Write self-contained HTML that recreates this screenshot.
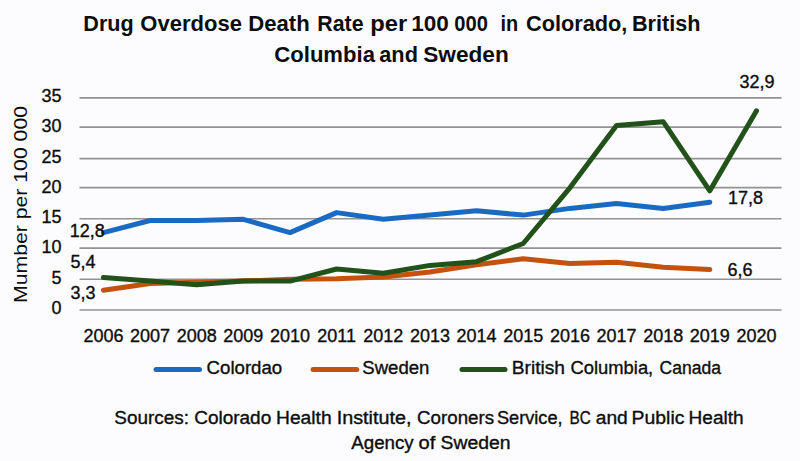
<!DOCTYPE html>
<html><head><meta charset="utf-8"><style>
html,body{margin:0;padding:0;background:#FCFCFE;}
svg{display:block;}
.t{font-family:"Liberation Sans",sans-serif;font-size:18px;fill:#0d0d0d;stroke:#0d0d0d;stroke-width:0.35px;white-space:pre;}
.b{font-family:"Liberation Sans",sans-serif;font-size:22px;font-weight:bold;fill:#0d0d0d;white-space:pre;}
</style></head><body>
<svg width="800" height="461" viewBox="0 0 800 461">
<rect width="800" height="461" fill="#FCFCFE"/>
<line x1="79.5" x2="781.5" y1="310.00" y2="310.00" stroke="#939393" stroke-width="1.6"/>
<line x1="79.5" x2="781.5" y1="279.30" y2="279.30" stroke="#939393" stroke-width="1.6"/>
<line x1="79.5" x2="781.5" y1="248.10" y2="248.10" stroke="#939393" stroke-width="1.6"/>
<line x1="79.5" x2="781.5" y1="218.80" y2="218.80" stroke="#939393" stroke-width="1.6"/>
<line x1="79.5" x2="781.5" y1="187.60" y2="187.60" stroke="#939393" stroke-width="1.6"/>
<line x1="79.5" x2="781.5" y1="158.60" y2="158.60" stroke="#939393" stroke-width="1.6"/>
<line x1="79.5" x2="781.5" y1="127.10" y2="127.10" stroke="#939393" stroke-width="1.6"/>
<line x1="79.5" x2="781.5" y1="97.90" y2="97.90" stroke="#939393" stroke-width="1.6"/>
<text x="61.5" y="314.0" text-anchor="end" class="t">0</text>
<text x="61.5" y="283.7" text-anchor="end" class="t">5</text>
<text x="61.5" y="253.4" text-anchor="end" class="t">10</text>
<text x="61.5" y="223.1" text-anchor="end" class="t">15</text>
<text x="61.5" y="192.8" text-anchor="end" class="t">20</text>
<text x="61.5" y="162.5" text-anchor="end" class="t">25</text>
<text x="61.5" y="132.2" text-anchor="end" class="t">30</text>
<text x="61.5" y="101.9" text-anchor="end" class="t">35</text>
<text x="103.4" y="342" text-anchor="middle" class="t">2006</text>
<text x="150.1" y="342" text-anchor="middle" class="t">2007</text>
<text x="196.7" y="342" text-anchor="middle" class="t">2008</text>
<text x="243.3" y="342" text-anchor="middle" class="t">2009</text>
<text x="290.0" y="342" text-anchor="middle" class="t">2010</text>
<text x="336.6" y="342" text-anchor="middle" class="t">2011</text>
<text x="383.3" y="342" text-anchor="middle" class="t">2012</text>
<text x="430.0" y="342" text-anchor="middle" class="t">2013</text>
<text x="476.6" y="342" text-anchor="middle" class="t">2014</text>
<text x="523.2" y="342" text-anchor="middle" class="t">2015</text>
<text x="569.9" y="342" text-anchor="middle" class="t">2016</text>
<text x="616.5" y="342" text-anchor="middle" class="t">2017</text>
<text x="663.2" y="342" text-anchor="middle" class="t">2018</text>
<text x="709.8" y="342" text-anchor="middle" class="t">2019</text>
<text x="756.5" y="342" text-anchor="middle" class="t">2020</text>
<polyline points="103.4,232.6 150.1,220.5 196.7,220.5 243.3,219.3 290.0,232.6 336.6,212.6 383.3,219.3 430.0,215.1 476.6,210.8 523.2,215.1 569.9,208.4 616.5,203.5 663.2,208.4 709.8,202.3" fill="none" stroke="#1A6AC4" stroke-width="5" stroke-linejoin="round" stroke-linecap="round"/>
<polyline points="103.4,290.2 150.1,283.5 196.7,282.3 243.3,281.1 290.0,279.3 336.6,278.7 383.3,276.9 430.0,272.0 476.6,264.8 523.2,258.7 569.9,263.5 616.5,262.3 663.2,267.2 709.8,269.6" fill="none" stroke="#C4520E" stroke-width="5" stroke-linejoin="round" stroke-linecap="round"/>
<polyline points="103.4,277.5 150.1,281.1 196.7,284.7 243.3,281.1 290.0,281.1 336.6,269.0 383.3,273.2 430.0,265.4 476.6,261.7 523.2,243.5 569.9,187.8 616.5,125.4 663.2,121.7 709.8,190.8 756.5,110.8" fill="none" stroke="#22511A" stroke-width="5" stroke-linejoin="round" stroke-linecap="round"/>
<text x="69.8" y="236.8" class="t">12,8</text>
<text x="70.5" y="267.6" class="t">5,4</text>
<text x="70.5" y="299.3" class="t">3,3</text>
<text x="728" y="204" class="t">17,8</text>
<text x="727.5" y="276" class="t">6,6</text>
<text x="739.5" y="88.3" class="t">32,9</text>
<text transform="translate(27.3,303) rotate(-90)" x="0" y="0" class="t" style="stroke-width:0" textLength="197" lengthAdjust="spacingAndGlyphs">Mumber per 100 000</text>
<line x1="156.0" x2="199.5" y1="369.4" y2="369.4" stroke="#1A6AC4" stroke-width="5" stroke-linecap="round"/>
<line x1="313.1" x2="356.8" y1="369.4" y2="369.4" stroke="#C4520E" stroke-width="5" stroke-linecap="round"/>
<line x1="462.0" x2="505.0" y1="369.4" y2="369.4" stroke="#22511A" stroke-width="5" stroke-linecap="round"/>
<text x="83.32" y="31.2" class="b" textLength="50.29" lengthAdjust="spacingAndGlyphs">Drug</text>
<text x="140.30" y="31.2" class="b" textLength="101.64" lengthAdjust="spacingAndGlyphs">Overdose</text>
<text x="248.29" y="31.2" class="b" textLength="61.45" lengthAdjust="spacingAndGlyphs">Death</text>
<text x="317.33" y="31.2" class="b" textLength="46.20" lengthAdjust="spacingAndGlyphs">Rate</text>
<text x="370.22" y="31.2" class="b" textLength="37.01" lengthAdjust="spacingAndGlyphs">per</text>
<text x="411.27" y="31.2" class="b" textLength="37.67" lengthAdjust="spacingAndGlyphs">100</text>
<text x="454.30" y="31.2" class="b" textLength="33.62" lengthAdjust="spacingAndGlyphs">000</text>
<text x="500.39" y="31.2" class="b" textLength="17.70" lengthAdjust="spacingAndGlyphs">in</text>
<text x="526.00" y="31.2" class="b" textLength="101.40" lengthAdjust="spacingAndGlyphs">Colorado,</text>
<text x="631.92" y="31.2" class="b" textLength="68.51" lengthAdjust="spacingAndGlyphs">British</text>
<text x="274.30" y="62.4" class="b" textLength="100.63" lengthAdjust="spacingAndGlyphs">Columbia</text>
<text x="379.30" y="62.4" class="b" textLength="38.62" lengthAdjust="spacingAndGlyphs">and</text>
<text x="423.20" y="62.4" class="b" textLength="85.55" lengthAdjust="spacingAndGlyphs">Sweden</text>
<text x="114.30" y="424" class="t" textLength="74.75" lengthAdjust="spacingAndGlyphs">Sources:</text>
<text x="194.20" y="424" class="t" textLength="77.01" lengthAdjust="spacingAndGlyphs">Colorado</text>
<text x="276.03" y="424" class="t" textLength="55.55" lengthAdjust="spacingAndGlyphs">Health</text>
<text x="336.70" y="424" class="t" textLength="74.70" lengthAdjust="spacingAndGlyphs">Institute,</text>
<text x="417.10" y="424" class="t" textLength="77.00" lengthAdjust="spacingAndGlyphs">Coroners</text>
<text x="496.90" y="424" class="t" textLength="65.71" lengthAdjust="spacingAndGlyphs">Service,</text>
<text x="569.45" y="424" class="t" textLength="21.25" lengthAdjust="spacingAndGlyphs">BC</text>
<text x="595.80" y="424" class="t" textLength="31.98" lengthAdjust="spacingAndGlyphs">and</text>
<text x="631.62" y="424" class="t" textLength="52.78" lengthAdjust="spacingAndGlyphs">Public</text>
<text x="688.64" y="424" class="t" textLength="55.03" lengthAdjust="spacingAndGlyphs">Health</text>
<text x="351.30" y="449.3" class="t" textLength="62.40" lengthAdjust="spacingAndGlyphs">Agency</text>
<text x="418.60" y="449.3" class="t" textLength="16.78" lengthAdjust="spacingAndGlyphs">of</text>
<text x="440.50" y="449.3" class="t" textLength="69.99" lengthAdjust="spacingAndGlyphs">Sweden</text>
<text x="206.55" y="373.5" class="t" textLength="75.66" lengthAdjust="spacingAndGlyphs">Colordao</text>
<text x="362.30" y="373.5" class="t" textLength="67.14" lengthAdjust="spacingAndGlyphs">Sweden</text>
<text x="511.74" y="373.5" class="t" textLength="53.24" lengthAdjust="spacingAndGlyphs">British</text>
<text x="570.50" y="373.5" class="t" textLength="82.72" lengthAdjust="spacingAndGlyphs">Columbia,</text>
<text x="659.50" y="373.5" class="t" textLength="61.44" lengthAdjust="spacingAndGlyphs">Canada</text>
</svg>
</body></html>
